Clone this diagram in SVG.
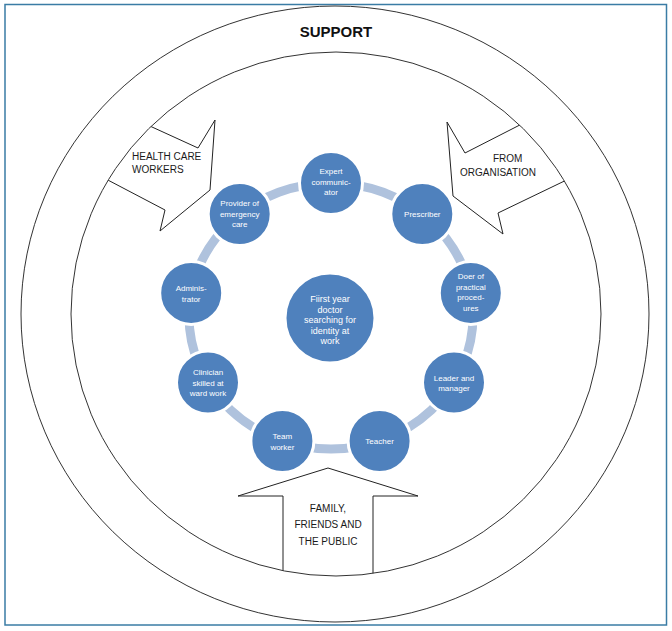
<svg xmlns="http://www.w3.org/2000/svg" width="672" height="631" viewBox="0 0 672 631">
<style>
.ln{fill:none;stroke:#333;stroke-width:1}
.arr{fill:#fff;stroke:#222;stroke-width:1;stroke-linejoin:miter}
.lbl{font-family:"Liberation Sans",Arial,sans-serif;font-size:10px;fill:#1a1a1a}
.node circle{fill:#4f81bd;stroke:#fff;stroke-width:3}
.node text{font-family:"Liberation Sans",Arial,sans-serif;font-size:8px;fill:#fff;text-anchor:middle}
.ring{fill:none;stroke:#afc2dd;stroke-width:9}
</style>
<defs>
<clipPath id="inner"><ellipse cx="336" cy="314" rx="265" ry="262"/></clipPath>
</defs>
<rect x="0" y="0" width="672" height="631" fill="#fff"/>
<rect x="5" y="4.5" width="661.5" height="620.5" fill="none" stroke="#3a7ca5" stroke-width="1.5"/>
<ellipse class="ln" cx="335" cy="314" rx="314" ry="308"/>
<text x="336" y="37" text-anchor="middle" font-family="Liberation Sans,Arial,sans-serif" font-size="15" font-weight="bold" fill="#111">SUPPORT</text>
<g id="arrows" clip-path="url(#inner)">
<g id="arrow-health"><polygon class="arr" points="60,85 198,148 215,120 210,190 160,231 165,210 22,135"/></g>
<g id="arrow-org"><polygon class="arr" points="602,83 465,153 447,122 453,196 503,234 498,213 660,135"/></g>
<g id="arrow-family"><polygon class="arr" points="283,620 283,496 238,496 328,468 418,496 373,496 373,620"/></g>
</g>
<ellipse class="ln" cx="336" cy="314" rx="265" ry="262"/>
<text class="lbl" x="132" y="160">HEALTH CARE</text>
<text class="lbl" x="132" y="173">WORKERS</text>
<text class="lbl" x="493" y="162">FROM</text>
<text class="lbl" x="460" y="176">ORGANISATION</text>
<text class="lbl" x="328" y="512" text-anchor="middle">FAMILY,</text>
<text class="lbl" x="328" y="528" text-anchor="middle">FRIENDS AND</text>
<text class="lbl" x="328" y="545" text-anchor="middle">THE PUBLIC</text>
<g id="connectors">
<ellipse class="ring" cx="331" cy="316" rx="142" ry="133"/>
</g>
<g id="center" class="node">
<circle cx="330" cy="318" r="45"/>
<text style="font-size:9px"><tspan x="330" y="302">Fiirst year</tspan><tspan x="330" y="312.5">doctor</tspan><tspan x="330" y="323">searching for</tspan><tspan x="330" y="333.5">identity at</tspan><tspan x="330" y="344">work</tspan></text>
</g>
<g id="n-expert" class="node"><circle cx="331" cy="183" r="31.5"/><text><tspan x="331" y="174">Expert</tspan><tspan x="331" y="184.5">communic-</tspan><tspan x="331" y="195">ator</tspan></text></g>
<g id="n-prescriber" class="node"><circle cx="422.3" cy="214.1" r="31.5"/><text><tspan x="422.3" y="217">Prescriber</tspan></text></g>
<g id="n-doer" class="node"><circle cx="470.8" cy="292.9" r="31.5"/><text><tspan x="470.8" y="279">Doer of</tspan><tspan x="470.8" y="289.5">practical</tspan><tspan x="470.8" y="300">proced-</tspan><tspan x="470.8" y="310.5">ures</tspan></text></g>
<g id="n-leader" class="node"><circle cx="454" cy="382.5" r="31.5"/><text><tspan x="454" y="380.5">Leader and</tspan><tspan x="454" y="391">manager</tspan></text></g>
<g id="n-teacher" class="node"><circle cx="379.6" cy="441" r="31.5"/><text><tspan x="379.6" y="444">Teacher</tspan></text></g>
<g id="n-team" class="node"><circle cx="282.4" cy="441" r="31.5"/><text><tspan x="282.4" y="439">Team</tspan><tspan x="282.4" y="449.5">worker</tspan></text></g>
<g id="n-clinician" class="node"><circle cx="208" cy="382.5" r="31.5"/><text><tspan x="208" y="375">Clinician</tspan><tspan x="208" y="385.5">skilled at</tspan><tspan x="208" y="396">ward work</tspan></text></g>
<g id="n-admin" class="node"><circle cx="191.2" cy="292.9" r="31.5"/><text><tspan x="191.2" y="290.5">Adminis-</tspan><tspan x="191.2" y="302">trator</tspan></text></g>
<g id="n-provider" class="node"><circle cx="239.7" cy="214.1" r="31.5"/><text><tspan x="239.7" y="206">Provider of</tspan><tspan x="239.7" y="216.5">emergency</tspan><tspan x="239.7" y="227">care</tspan></text></g>
</svg>
